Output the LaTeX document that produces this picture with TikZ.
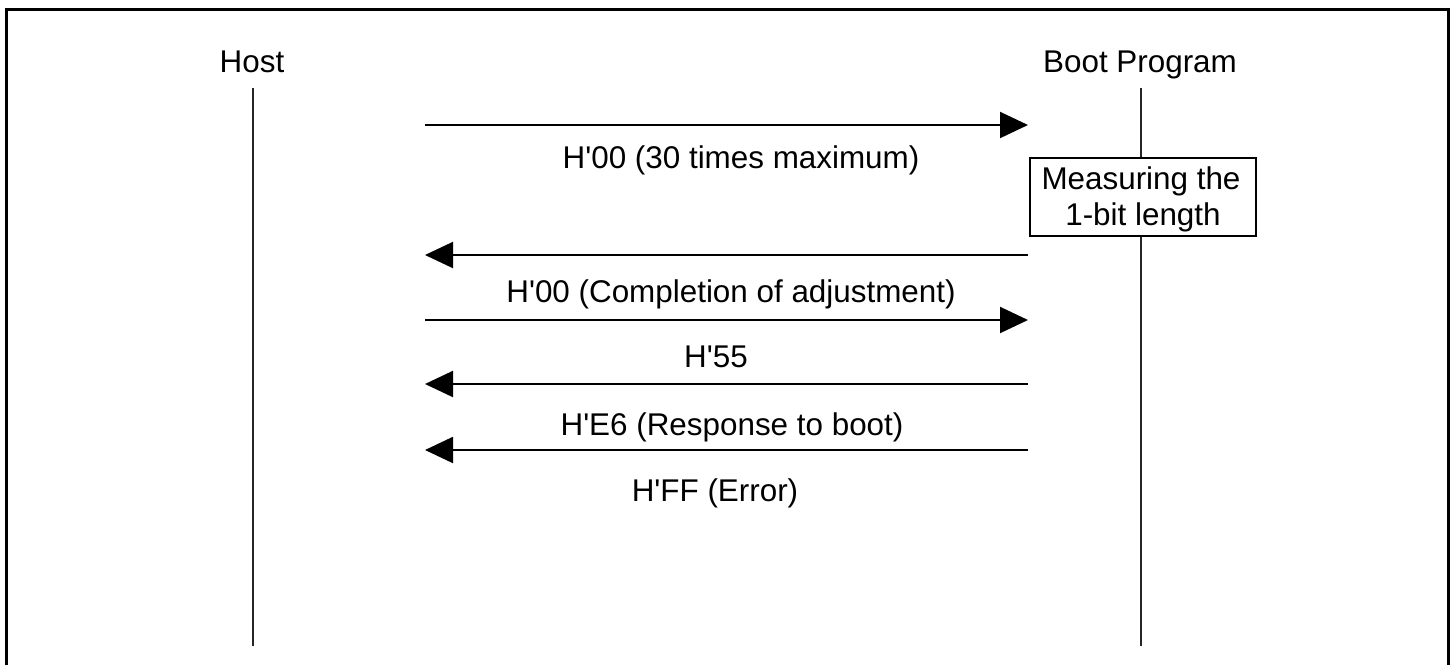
\documentclass[tikz,border=0pt]{standalone}
\usepackage{fontspec}
\setmainfont{Liberation Sans}
\usetikzlibrary{arrows.meta}
\newcommand\sq{\textquotesingle}
\begin{document}
\begin{tikzpicture}[x=0.5pt,y=-0.5pt,
  lbl/.style={font=\fontsize{15.7}{18}\selectfont, inner sep=0pt, anchor=base},
  life/.style={line width=1pt, black!85},
  msg/.style={line width=1pt, -{Triangle[length=14pt,width=13pt]}},
  frame/.style={line width=1.5pt},
  procbox/.style={draw, line width=1pt, fill=white, minimum width=113pt, minimum height=39pt, inner sep=0pt}]
\useasboundingbox (0,0) rectangle (1451,665);
\draw[frame] (6,665) -- (6,9) -- (1448,9) -- (1448,665);
% lifeline headers
\node[lbl] (host) at (252,72) {Host};
\node[lbl] (boot) at (1140,72) {Boot Program};
\coordinate (hostTop) at (253,88);
\coordinate (hostBot) at (253,646);
\coordinate (bootTop) at (1141,88);
\coordinate (bootBot) at (1141,646);
\draw[life] (hostTop) -- (hostBot);
\draw[life] (bootTop) -- (bootBot);
% process box
\node[procbox] (meas) at (1143,197) {};
\node[lbl] (measA) at (1141,189) {Measuring the};
\node[lbl] (measB) at (1143,225) {1-bit length};
% message endpoints
\coordinate (l1) at (425,125); \coordinate (r1) at (1028,125);
\coordinate (l2) at (425,255); \coordinate (r2) at (1028,255);
\coordinate (l3) at (425,320); \coordinate (r3) at (1028,320);
\coordinate (l4) at (425,384); \coordinate (r4) at (1028,384);
\coordinate (l5) at (425,450); \coordinate (r5) at (1028,450);
\draw[msg] (l1) -- (r1);
\draw[msg] (r2) -- (l2);
\draw[msg] (l3) -- (r3);
\draw[msg] (r4) -- (l4);
\draw[msg] (r5) -- (l5);
% labels
\node[lbl] (t1) at (741,168) {H\sq 00 (30 times maximum)};
\node[lbl] (t2) at (731,302) {H\sq 00 (Completion of adjustment)};
\node[lbl] (t3) at (716,367) {H\sq 55};
\node[lbl] (t4) at (732,435) {H\sq E6 (Response to boot)};
\node[lbl] (t5) at (715,501) {H\sq FF (Error)};
\end{tikzpicture}
\end{document}
